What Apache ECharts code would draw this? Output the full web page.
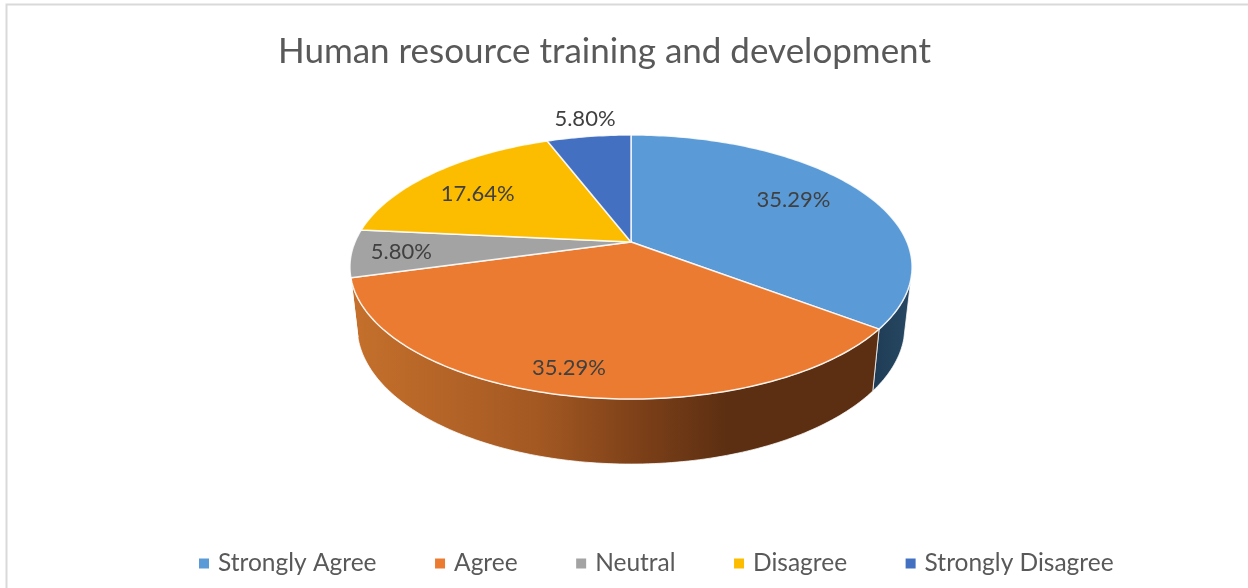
<!DOCTYPE html>
<html>
<head>
<meta charset="utf-8">
<style>html,body{margin:0;padding:0;background:#fff}#chart{width:1248px;height:588px}</style>
<script src="https://cdn.jsdelivr.net/npm/echarts@6/dist/echarts.min.js"></script>
</head>
<body>
<div id="chart"></div>
<script>
const chartTitle = 'Human resource training and development';
const categories = ['Strongly Agree', 'Agree', 'Neutral', 'Disagree', 'Strongly Disagree'];
const shares = [35.29, 35.29, 5.80, 17.64, 5.80];
const topColors = ['#5A9AD6', '#EB7B30', '#A3A3A3', '#FCBD00', '#4370C0'];

const FONT = 'Lato, "Open Sans", sans-serif';
const cx = 631, cy = 242, tilt = 0.1894;
const topFace = { b: 276, a: 127.3, y0: cy };
const lowFace = { b: 269, a: 133, y0: 300 };
const wallFrom = 106, wallTo = 256;           // visible front of the rim, degrees clockwise from 12 o'clock
const labelRadius = 0.7;
const labelNudge = [[-1, -5], [-20, 25], [-35, 2], [-11, 2], [-15, -46]];
const wallFills = [
  [[0, '#1f3c55'], [1, '#264661']],
  [[0, '#c5702c'], [0.36, '#a35822'], [0.56, '#7b3f18'], [0.72, '#5c2f12'], [1, '#5c2f12']]
];
const total = shares.reduce((s, v) => s + v, 0);

function project(face, deg, r) {
  const t = deg * Math.PI / 180, u = Math.sin(t) * r, v = -Math.cos(t) * r, w = 1 - tilt * v;
  return [cx + face.b * u / w, face.y0 + face.a * v / w];
}
function arc(face, from, to) {
  const pts = [], n = Math.max(2, Math.ceil(Math.abs(to - from)));
  for (let i = 0; i <= n; i++) pts.push(project(face, from + (to - from) * i / n, 1));
  return pts;
}
function angleRange(i, value) {
  let before = 0;
  for (let k = 0; k < i; k++) before += shares[k];
  return [before / total * 360, (before + value) / total * 360];
}
function renderSlice(i) {
  return function (params, api) {
    const value = api.value(0), range = angleRange(i, value), children = [];
    const from = Math.max(range[0], wallFrom), to = Math.min(range[1], wallTo);
    if (to > from) {
      const stops = wallFills[i] || [[0, topColors[i]], [1, topColors[i]]];
      children.push({
        type: 'polygon',
        shape: { points: arc(topFace, from, to).concat(arc(lowFace, to, from)) },
        style: {
          fill: {
            type: 'linear', global: true,
            x: i === 1 ? 352 : 873, y: 0, x2: i === 1 ? 873 : 906, y2: 0,
            colorStops: stops.map(s => ({ offset: s[0], color: s[1] }))
          },
          stroke: 'rgba(255,255,255,0.75)', lineWidth: 1
        }
      });
    }
    children.push({
      type: 'polygon',
      shape: { points: [[cx, cy]].concat(arc(topFace, range[0], range[1])) },
      style: { fill: topColors[i], stroke: 'rgba(255,255,255,0.85)', lineWidth: 1.5, lineJoin: 'round' }
    });
    const anchor = project(topFace, (range[0] + range[1]) / 2, labelRadius);
    children.push({
      type: 'text',
      style: {
        x: anchor[0] + labelNudge[i][0], y: anchor[1] + labelNudge[i][1],
        text: value.toFixed(2) + '%', align: 'center', verticalAlign: 'middle',
        fill: '#404040', font: '22px ' + FONT
      }
    });
    return { type: 'group', children };
  };
}

const chart = echarts.init(document.getElementById('chart'), null, { renderer: 'canvas' });
chart.setOption({
  animation: false,
  backgroundColor: '#ffffff',
  color: topColors,
  title: {
    text: chartTitle, left: 273, top: 29,
    textStyle: { color: '#595959', fontFamily: FONT, fontSize: 35, fontWeight: 'normal' }
  },
  legend: {
    left: 194, top: 546, icon: 'rect', itemWidth: 10, itemHeight: 10, itemGap: 58.5,
    data: categories, selectedMode: false,
    textStyle: { color: '#595959', fontFamily: FONT, fontSize: 24.5, padding: [0, 0, 0, 4] }
  },
  graphic: [{
    type: 'polyline', silent: true,
    shape: { points: [[6.5, 588], [6.5, 4.5], [1248, 4.5]] },
    style: { stroke: '#d9d9d9', lineWidth: 2, fill: null }
  }],
  series: categories.map((name, i) => ({
    type: 'custom', name, coordinateSystem: 'none',
    itemStyle: { color: topColors[i] },
    renderItem: renderSlice(i),
    data: [[shares[i]]]
  }))
});
</script>
</body>
</html>
